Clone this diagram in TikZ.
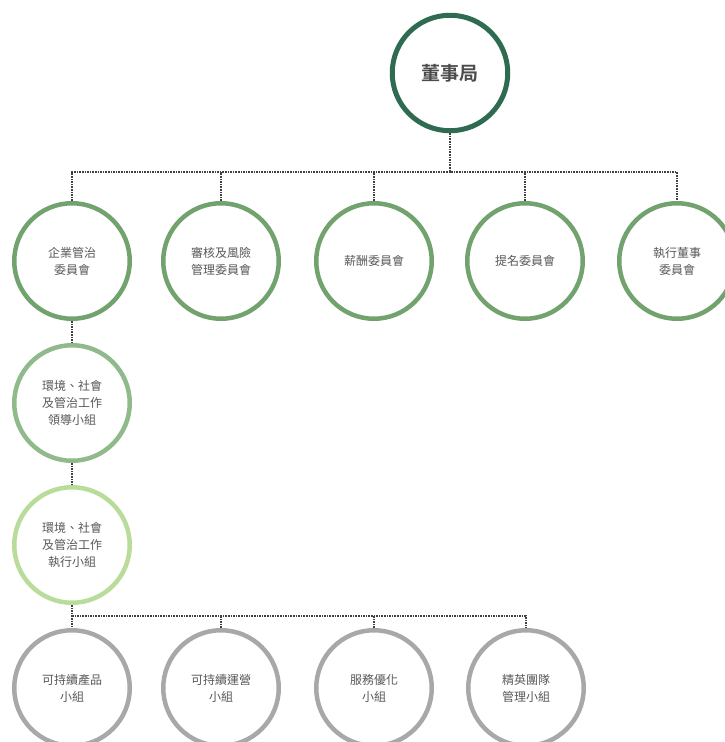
\documentclass[tikz,border=0pt]{standalone}
\usepackage{fontspec}
\newfontfamily\cjk{Noto Sans CJK TC}
\newfontfamily\cjkbold{Noto Sans CJK TC Bold}
\usetikzlibrary{calc}

\definecolor{boardgreen}{HTML}{2E6B51}
\definecolor{commgreen}{HTML}{72A36E}
\definecolor{leadgreen}{HTML}{90BA8B}
\definecolor{execgreen}{HTML}{B9DC9B}
\definecolor{groupgray}{HTML}{A8A8AA}
\definecolor{txtgray}{HTML}{585858}

\tikzset{
  unit/.style={circle, draw=#1, line width=4.5pt, minimum size=115.5pt, inner sep=0pt,
    align=center, font=\cjk\fontsize{12}{17}\selectfont, text=txtgray},
  link/.style={densely dotted, line width=1.6pt, draw=black!75},
}

\begin{document}
\begin{tikzpicture}[x=1pt,y=-1pt]
\useasboundingbox (0,0) rectangle (725,742);
\clip (0,0) rectangle (725,742);
\fill[white] (0,0) rectangle (725,742);
% board
\node[unit=boardgreen, line width=5pt, font=\cjkbold\fontsize{19}{22}\selectfont, text=black!70] (board) at (450,73) {董事局};
% committees
\node[unit=commgreen] (cg) at (72,261) {企業管治\\委員會};
\node[unit=commgreen] (ar) at (221,261) {審核及風險\\管理委員會};
\node[unit=commgreen] (rem) at (374,261) {薪酬委員會};
\node[unit=commgreen] (nom) at (525,261) {提名委員會};
\node[unit=commgreen] (ed) at (677,261) {執行董事\\委員會};
% esg groups
\node[unit=leadgreen] (lead) at (72,403) {環境、社會\\及管治工作\\領導小組};
\node[unit=execgreen] (exec) at (72,545) {環境、社會\\及管治工作\\執行小組};
% working groups
\node[unit=groupgray] (prod) at (72,688) {可持續產品\\小組};
\node[unit=groupgray] (ops) at (221,688) {可持續運營\\小組};
\node[unit=groupgray] (svc) at (374,688) {服務優化\\小組};
\node[unit=groupgray] (team) at (526,688) {精英團隊\\管理小組};
% connectors
\coordinate (bus1) at (450,172);
\coordinate (bus2) at (72,616);
\draw[link] (board) -- (bus1);
\draw[link] (cg) |- (bus1) -| (ed);
\foreach \n in {ar,rem,nom}{
\draw[link] (\n) -- (\n |- bus1);
}
\draw[link] (cg) -- (lead);
\draw[link] (lead) -- (exec);
\draw[link] (exec) -- (prod);
\draw[link] (bus2) -| (team);
\foreach \n in {ops,svc}{
\draw[link] (\n) -- (\n |- bus2);
}
\end{tikzpicture}
\end{document}
